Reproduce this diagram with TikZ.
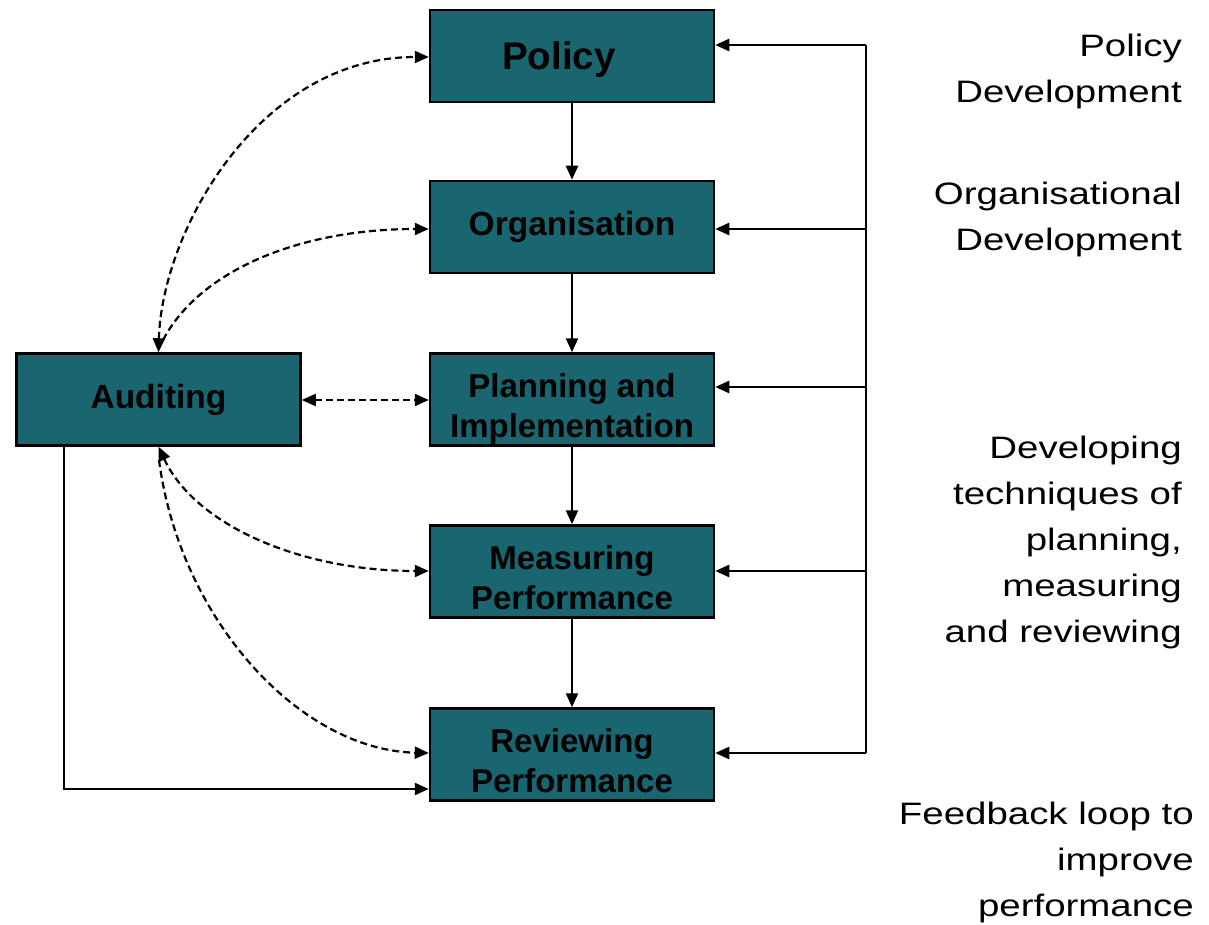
\documentclass[tikz,border=0pt]{standalone}
\usepackage{fontspec}
\setmainfont{Liberation Sans}
\newfontfamily\widefont[FakeStretch=1.24]{Liberation Sans}
\usetikzlibrary{arrows.meta}
\definecolor{boxteal}{RGB}{25,101,112}
\tikzset{
  x=1pt, y=-1pt,
  stagebox/.style={draw=black, line width=2.5pt, fill=boxteal, minimum width=284pt, minimum height=92pt,
    inner sep=0pt, align=center, font=\bfseries, text=black},
  oneline/.style={font=\fontsize{33.5}{38}\selectfont\bfseries},
  twoline/.style={font=\fontsize{33}{40}\selectfont\bfseries, text height=76pt, text depth=0pt},
  flow/.style={line width=2.4pt, -{Triangle[length=14pt,width=12pt]}},
  dashflow/.style={line width=2.2pt, dash pattern=on 7pt off 4pt, -{Triangle[length=14pt,width=12pt]}},
  bothends/.style={{Triangle[length=14pt,width=12pt]}-{Triangle[length=14pt,width=12pt]}},
  sidetext/.style={anchor=north east, align=right, inner sep=0pt, font=\widefont\fontsize{31}{46}\selectfont}
}
\begin{document}
\begin{tikzpicture}
\useasboundingbox (0,0) rectangle (1209,925);
\fill[white] (0,0) rectangle (1209,925);

\node[stagebox, font=\fontsize{38.5}{40}\selectfont\bfseries, text height=28pt, text depth=0pt] (pol) at (572,56) {\hspace*{-26pt}Policy};
\node[stagebox, oneline] (org) at (572,227) {Organisation};
\node[stagebox, twoline] (pla) at (572,399.5) {Planning and\\Implementation};
\node[stagebox, twoline] (mea) at (572,571.5) {Measuring\\Performance};
\node[stagebox, twoline] (rev) at (572,754.5) {Reviewing\\Performance};
\node[stagebox, oneline] (aud) at (158.5,399.5) {Auditing};

% main flow
\draw[flow] (pol) -- (org);
\draw[flow] (org) -- (pla);
\draw[flow] (pla) -- (mea);
\draw[flow] (mea) -- (rev);

% feedback bus on the right
\coordinate (bt) at (866,45);
\coordinate (bb) at (866,753);
\draw[line width=2.5pt] (bt) -- (bb);
\draw[flow] (bt) -- (pol.east |- bt);
\draw[flow] (866,229) -- (org.east |- 0,229);
\draw[flow] (866,387) -- (pla.east |- 0,387);
\draw[flow] (866,571) -- (mea.east |- 0,571);
\draw[flow] (bb) -- (rev.east |- bb);

% auditing to reviewing
\coordinate (a1) at (64,789);
\draw[flow] (aud.south -| a1) -- (a1) -- (rev.west |- a1);

% dashed links
\draw[dashflow, bothends] (aud.north) .. controls (162,230) and (260,57) .. (pol.west |- 0,57);
\draw[dashflow] (163,340) .. controls (200,270) and (300,229) .. (org.west |- 0,229);
\draw[dashflow, bothends] (aud.east |- 0,400) -- (pla.west |- 0,400);
\draw[dashflow, bothends] (aud.south) .. controls (195,525) and (300,571) .. (mea.west |- 0,571);
\draw[dashflow] (159,460) .. controls (180,620) and (300,750) .. (rev.west |- 0,753);

% side texts
\node[sidetext] (t1) at (1182,34) {Policy\\Development};
\node[sidetext] (t2) at (1182,182) {Organisational\\Development};
\node[sidetext] (t3) at (1182,436) {Developing\\techniques of\\planning,\\measuring\\and reviewing};
\node[sidetext] (t4) at (1194,802) {Feedback loop to\\improve\\performance};
\end{tikzpicture}
\end{document}
